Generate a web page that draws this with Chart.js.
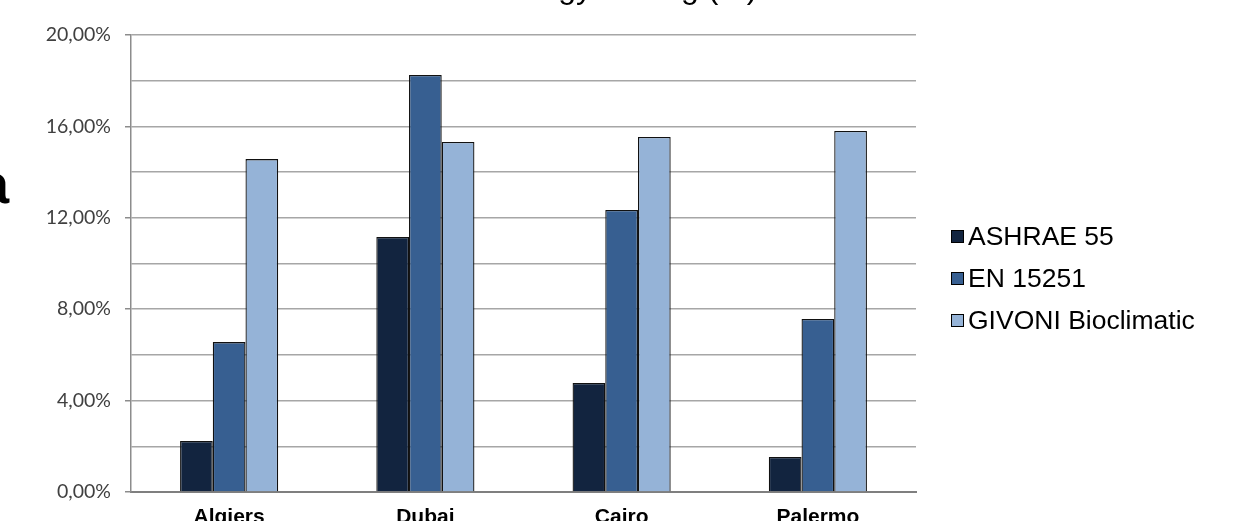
<!DOCTYPE html>
<html>
<head>
<meta charset="utf-8">
<script src="https://cdn.jsdelivr.net/npm/chart.js@4.4.1/dist/chart.umd.min.js"></script>
<style>
  html, body { margin: 0; padding: 0; background: #fff; }
  #wrap { position: relative; width: 1241px; height: 521px; overflow: hidden; background: #fff; }
  #chartBox { position: absolute; left: 0; top: 0; width: 1241px; height: 552px; }
  #title { position: absolute; left: 0; width: 1248px; top: -29px; text-align: center;
           font: 32px "Liberation Sans", Arial, sans-serif; line-height: 32px; color: #000; }
  #sideText { position: absolute; left: -22px; top: 151px; font: bold 56px "Liberation Sans", Arial, sans-serif; color: #000; }
  #legend { position: absolute; left: 951px; top: 215px; font: 26.5px "Liberation Sans", Arial, sans-serif; color: #000; }
  .item { height: 42px; display: flex; align-items: center; }
  .sw { width: 11px; height: 11px; border: 1px solid #000; margin-right: 4px; }
</style>
</head>
<body>
<div id="wrap">
  <div id="chartBox"><canvas id="energyChart"></canvas></div>
  <div id="title">Energy Saving (%)</div>
  <div id="sideText">a</div>
  <div id="legend"></div>
</div>
<script>
// données
const cities = ['Algiers', 'Dubai', 'Cairo', 'Palermo'];
const ashrae55 = [2.23, 11.16, 4.77, 1.53];
const en15251 = [6.56, 18.25, 12.34, 7.57];
const givoni = [14.57, 15.32, 15.54, 15.80];
const seriesNames = ['ASHRAE 55', 'EN 15251', 'GIVONI Bioclimatic'];
const seriesColors = ['#12243f', '#375f91', '#95b3d7'];

function fmtPct(v) {
    return v.toFixed(2).replace('.', ',') + '%';
}

// légende HTML à droite
const legendEl = document.getElementById('legend');
seriesNames.forEach((name, i) => {
    const row = document.createElement('div');
    row.className = 'item';
    row.innerHTML = '<span class="sw" style="background:' + seriesColors[i] + '"></span><span>' + name + '</span>';
    legendEl.appendChild(row);
});

const ctx = document.getElementById('energyChart');
new Chart(ctx, {
    type: 'bar',
    data: {
        labels: cities,
        datasets: [ashrae55, en15251, givoni].map((d, i) => ({
            label: seriesNames[i],
            data: d,
            backgroundColor: seriesColors[i],
            borderColor: '#111',
            borderWidth: 1.3,
            borderSkipped: 'bottom',
            barPercentage: 1.0,
            categoryPercentage: 0.5
        }))
    },
    options: {
        responsive: true,
        maintainAspectRatio: false,
        animation: false,
        layout: { padding: { top: 35, left: 0, right: 325, bottom: 0 } },
        plugins: { legend: { display: false }, tooltip: { enabled: false } },
        scales: {
            x: {
                afterFit: (s) => { s.height = 60; },
                grid: { display: false },
                border: { color: '#7f7f7f', width: 2 },
                ticks: { color: '#000', padding: 5, font: { family: 'Liberation Sans', size: 21, weight: 'bold' } }
            },
            y: {
                min: 0, max: 20,
                afterFit: (s) => { s.width = 131; },
                border: { color: '#8c8c8c', width: 1.5 },
                grid: {
                    color: '#a6a6a6', lineWidth: 1.5, tickLength: 6,
                    tickColor: (c) => (c.tick && Math.round(c.tick.value) % 4 === 0) ? '#8c8c8c' : 'rgba(0,0,0,0)'
                },
                ticks: {
                    stepSize: 2, padding: 14, color: '#404040',
                    font: { family: 'Lato', size: 19.5 },
                    callback: (v) => (Math.round(v) % 4 === 0) ? fmtPct(v) : ''
                }
            }
        }
    }
});
</script>
</body>
</html>
